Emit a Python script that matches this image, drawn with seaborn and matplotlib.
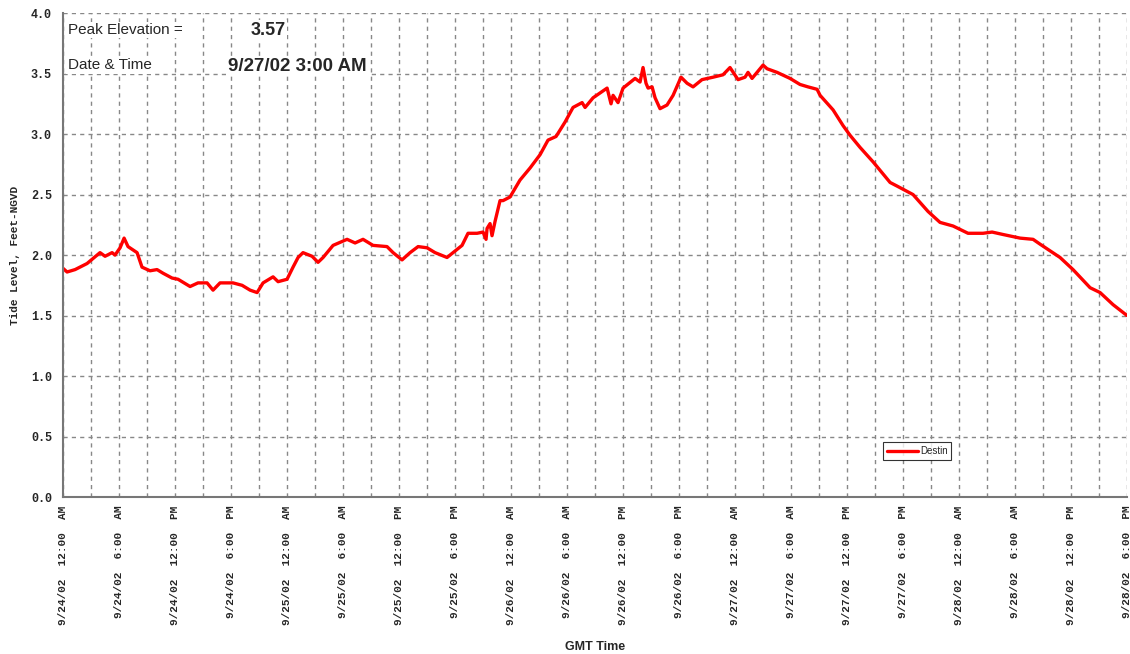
import matplotlib
matplotlib.use("Agg")
import matplotlib.pyplot as plt
import numpy as np
import pandas as pd
import seaborn as sns
from matplotlib.ticker import MultipleLocator, FuncFormatter

# hours since 9/24/02 12:00 AM (GMT) and tide level at Destin
hours = [0.0, 0.43, 1.29, 2.57, 3.96, 4.5, 5.25, 5.57, 6.11, 6.54, 6.96, 7.93,
         8.46, 9.32, 10.07, 10.71, 11.68, 12.32, 13.61, 14.46, 15.43, 16.07,
         16.82, 17.57, 18.21, 19.18, 20.04, 20.79, 21.43, 22.5, 23.04, 24.0,
         24.64, 25.18, 25.71, 26.68, 27.32, 27.86, 28.93, 30.43, 31.29, 32.14,
         33.21, 34.71, 35.36, 36.32, 37.18, 38.04, 39.0, 39.86, 41.14, 41.79,
         42.75, 43.39, 44.36, 45.0, 45.32, 45.43, 45.75, 45.96, 46.29, 46.82,
         47.14, 47.89, 48.96, 50.04, 51.11, 51.96, 52.82, 53.79, 54.64, 55.61,
         55.93, 56.79, 58.29, 58.71, 58.93, 59.46, 60.0, 61.29, 61.82, 62.14,
         62.46, 62.68, 63.11, 63.43, 63.96, 64.71, 65.36, 66.21, 66.86, 67.5,
         68.46, 69.64, 70.71, 71.46, 72.32, 73.07, 73.39, 73.82, 75.0, 75.43,
         76.5, 77.89, 78.96, 79.82, 80.79, 81.11, 82.5, 83.57, 84.32, 85.39,
         86.79, 88.61, 89.36, 91.07, 92.68, 93.96, 95.36, 96.96, 98.57, 99.54,
         100.71, 102.54, 103.93, 104.68, 106.82, 108.21, 110.04, 111.11, 112.5,
         114.0]
levels = [1.89, 1.86, 1.88, 1.93, 2.02, 1.99, 2.02, 2.00, 2.06, 2.14, 2.07, 2.02,
          1.90, 1.87, 1.88, 1.85, 1.81, 1.80, 1.74, 1.77, 1.77, 1.71,
          1.77, 1.77, 1.77, 1.75, 1.71, 1.69, 1.77, 1.82, 1.78, 1.80,
          1.90, 1.98, 2.02, 1.99, 1.94, 1.98, 2.08, 2.13, 2.10, 2.13,
          2.08, 2.07, 2.02, 1.96, 2.02, 2.07, 2.06, 2.02, 1.98, 2.02,
          2.08, 2.18, 2.18, 2.19, 2.13, 2.22, 2.26, 2.16, 2.28, 2.45,
          2.45, 2.48, 2.62, 2.72, 2.83, 2.95, 2.98, 3.10, 3.22, 3.26,
          3.22, 3.30, 3.38, 3.25, 3.32, 3.26, 3.38, 3.46, 3.43, 3.55,
          3.42, 3.38, 3.39, 3.30, 3.21, 3.24, 3.32, 3.47, 3.42, 3.39,
          3.45, 3.47, 3.49, 3.55, 3.45, 3.47, 3.51, 3.46, 3.57, 3.54,
          3.51, 3.46, 3.41, 3.39, 3.37, 3.32, 3.20, 3.07, 2.99, 2.89,
          2.77, 2.60, 2.57, 2.50, 2.36, 2.27, 2.24, 2.18, 2.18, 2.19,
          2.17, 2.14, 2.13, 2.09, 1.98, 1.88, 1.73, 1.69, 1.59,
          1.50]

peak_label = "3.57"
peak_time = "9/27/02 3:00 AM"

df = pd.DataFrame({"hours": hours, "level": levels, "station": "Destin"})

sns.set_style("white")
fig = plt.figure(figsize=(11.3, 6.54), dpi=100)
ax = fig.add_axes([0.0558, 0.240, 0.9416, 0.740])

sns.lineplot(data=df, x="hours", y="level", hue="station", palette=["#ff0000"],
             linewidth=2.4, ax=ax)

ax.set_xlim(0, 114)
ax.set_ylim(0, 4)

mono = "Liberation Mono"


def fmt_time(h, pos):
    h = int(round(h))
    if h % 6 != 0:
        return ""
    day = 24 + h // 24
    hr = h % 24
    ampm = "AM" if hr < 12 else "PM"
    hr12 = hr % 12
    if hr12 == 0:
        hr12 = 12
    return f"9/{day}/02  {hr12}:00  {ampm}"


ax.xaxis.set_major_locator(MultipleLocator(3))
ax.xaxis.set_minor_locator(MultipleLocator(1.5))
ax.xaxis.set_major_formatter(FuncFormatter(fmt_time))
ax.yaxis.set_major_locator(MultipleLocator(0.5))
ax.yaxis.set_major_formatter(FuncFormatter(lambda v, p: f"{v:.1f}"))

ax.tick_params(axis="x", which="major", direction="inout", length=8, width=1,
               color="#555555", labelsize=8, pad=2)
ax.tick_params(axis="x", which="minor", direction="inout", length=5, width=1,
               color="#555555")
ax.tick_params(axis="y", direction="out", length=5, width=1, color="#555555",
               labelsize=8.5, pad=3)
plt.setp(ax.get_xticklabels(), fontfamily=mono, fontweight="bold",
         rotation=90, ha="center", va="top")
plt.setp(ax.get_yticklabels(), fontfamily=mono, fontweight="bold")

ax.grid(True, which="major", color="#888888", linestyle=(0, (3, 3)), linewidth=1)
ax.set_axisbelow(True)

for side in ["top", "right"]:
    ax.spines[side].set_visible(False)
for side in ["left", "bottom"]:
    ax.spines[side].set_color("#777777")
    ax.spines[side].set_linewidth(1.5)

ax.set_ylabel("Tide Level, Feet-NGVD", fontfamily=mono, fontweight="bold",
              fontsize=8, labelpad=8)
ax.set_xlabel("GMT Time", fontfamily="Liberation Sans", fontweight="bold",
              fontsize=9, labelpad=12)

# peak annotation box
box = dict(facecolor="white", edgecolor="none", pad=1)
ax.text(0.0045, 0.965, "Peak Elevation =", transform=ax.transAxes, fontsize=11,
        fontfamily="Liberation Sans", va="center", ha="left", bbox=box)
ax.text(0.176, 0.965, peak_label, transform=ax.transAxes, fontsize=13,
        fontweight="bold", fontfamily="Liberation Sans", va="center", ha="left",
        bbox=box)
ax.text(0.0045, 0.892, "Date & Time", transform=ax.transAxes, fontsize=11,
        fontfamily="Liberation Sans", va="center", ha="left", bbox=box)
ax.text(0.155, 0.89, peak_time, transform=ax.transAxes, fontsize=13.5,
        fontweight="bold", fontfamily="Liberation Sans", va="center", ha="left",
        bbox=box)

leg = ax.legend(loc="lower left", bbox_to_anchor=(0.766, 0.066), frameon=True,
                fancybox=False, handlelength=3.2, handletextpad=0.2,
                borderpad=0.4, prop={"family": "Liberation Sans", "size": 7})
leg.get_frame().set_edgecolor("black")
leg.get_frame().set_linewidth(0.8)
for line in leg.get_lines():
    line.set_linewidth(2.4)

fig.savefig("out.png", dpi=100, facecolor="white")
